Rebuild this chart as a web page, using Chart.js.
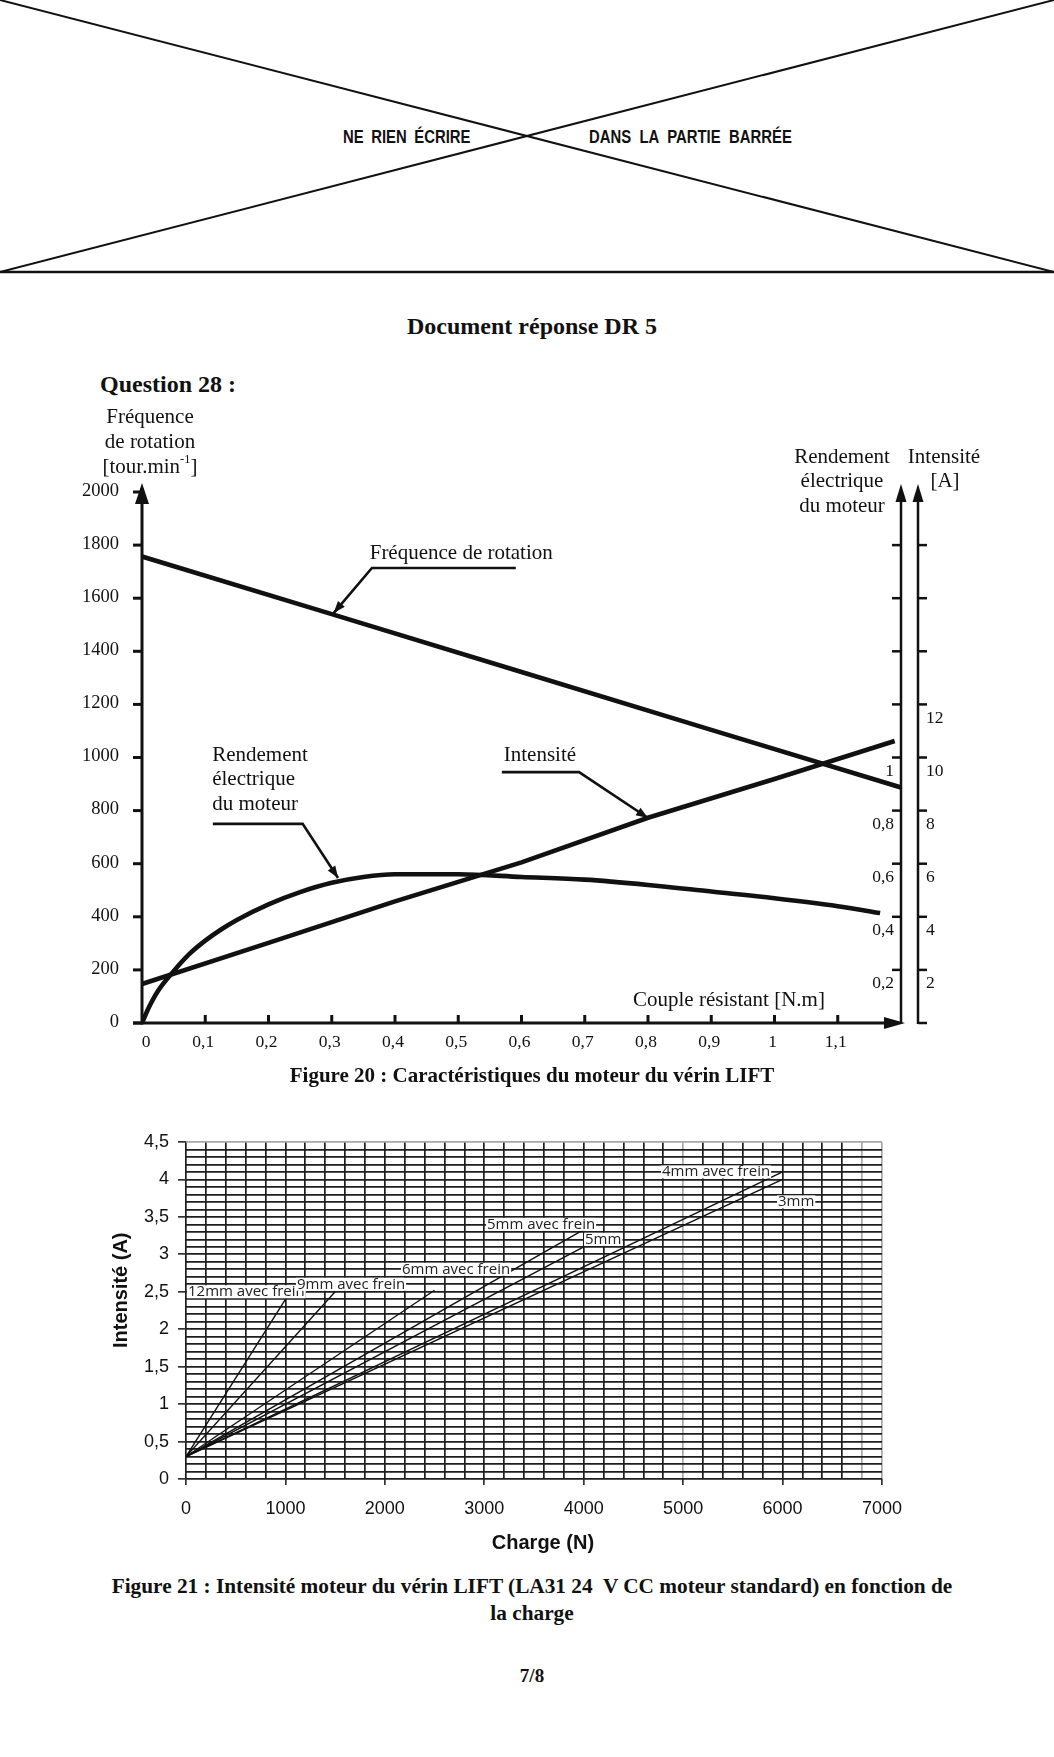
<!DOCTYPE html>
<html lang="fr">
<head>
<meta charset="utf-8">
<title>Document réponse DR 5</title>
<script src="https://cdn.jsdelivr.net/npm/chart.js@4.4.1/dist/chart.umd.min.js"></script>
<style>
  html, body { margin: 0; padding: 0; background: #fff; }
  #page { position: relative; width: 1054px; height: 1757px; overflow: hidden; color: #111;
          font-family: "Liberation Serif", "Times New Roman", serif; }
  .t { position: absolute; white-space: nowrap; line-height: 1; }
  .c { transform: translateX(-50%); }
  .b { font-weight: bold; }
  .hdr { font-family: "Liberation Sans", Arial, sans-serif; font-weight: bold; font-size: 17.5px;
         word-spacing: 4px; transform: scaleX(0.85); transform-origin: left top; }
  canvas { position: absolute; left: 0; }
</style>
</head>
<body>
<div id="page">
  <svg width="1054" height="280" style="position:absolute;left:0;top:0">
    <line x1="0" y1="0" x2="1054" y2="272" stroke="#111" stroke-width="2"/>
    <line x1="0" y1="272" x2="1054" y2="0" stroke="#111" stroke-width="2"/>
    <line x1="0" y1="272" x2="1054" y2="272" stroke="#111" stroke-width="2.5"/>
  </svg>
  <div class="t hdr" style="left:343px;top:128.5px">NE RIEN ÉCRIRE</div>
  <div class="t hdr" style="left:589px;top:128.5px;word-spacing:5px">DANS LA PARTIE BARRÉE</div>

  <div class="t c b" style="left:532px;top:314px;font-size:24px">Document réponse DR 5</div>
  <div class="t b" style="left:100px;top:372px;font-size:24px">Question 28 :</div>

  <canvas id="fig20" width="1054" height="720" style="top:380px"></canvas>
  <div class="t c b" style="left:532px;top:1065px;font-size:21px">Figure 20 : Caractéristiques du moteur du vérin LIFT</div>

  <canvas id="fig21" width="1054" height="460" style="top:1103px"></canvas>
  <div class="t c b" style="left:532px;top:1576px;font-size:21.3px">Figure 21 : Intensité moteur du vérin LIFT (LA31 24&nbsp; V CC moteur standard) en fonction de</div>
  <div class="t c b" style="left:532px;top:1603px;font-size:21.3px">la charge</div>

  <div class="t c b" style="left:532px;top:1666px;font-size:19px">7/8</div>
</div>

<script>
const INK = '#111';
const SERIF = '"Liberation Serif", "Times New Roman", serif';
const SANS = '"Liberation Sans", Arial, sans-serif';

// ---- Figure 20 : caractéristiques du moteur ----
const coupleF = [0, 0.3, 0.6, 0.9, 1.2];
const frequence = [1757, 1540, 1322, 1104, 887];            // tour.min-1

const coupleI = [0, 0.2, 0.4, 0.6, 0.8, 1.0, 1.19];
const intensite = [1.47, 3.02, 4.58, 6.05, 7.73, 9.19, 10.62]; // A

const coupleR = [0, 0.01, 0.025, 0.05, 0.075, 0.1, 0.125, 0.15, 0.2, 0.25, 0.3, 0.35, 0.4,
                 0.5, 0.6, 0.7, 0.8, 0.9, 1.0, 1.1, 1.167];
const rendement = [0, 0.055, 0.12, 0.195, 0.26, 0.31, 0.352, 0.388, 0.447, 0.493, 0.528, 0.55, 0.56,
                   0.56, 0.55, 0.54, 0.52, 0.495, 0.47, 0.44, 0.414];

const freqTicks = [0, 200, 400, 600, 800, 1000, 1200, 1400, 1600, 1800, 2000];
const coupleTicks = [0.1, 0.2, 0.3, 0.4, 0.5, 0.6, 0.7, 0.8, 0.9, 1, 1.1];
const coupleLabels = ['0,1', '0,2', '0,3', '0,4', '0,5', '0,6', '0,7', '0,8', '0,9', '1', '1,1'];
const rendTicks = [0.2, 0.4, 0.6, 0.8, 1, 1.2, 1.4, 1.6, 1.8];
const rendLabels = ['0,2', '0,4', '0,6', '0,8', '1'];
const intTicks = [0, 2, 4, 6, 8, 10, 12, 14, 16, 18];
const intLabels = ['', '2', '4', '6', '8', '10', '12'];

// ---- Figure 21 : intensité en fonction de la charge ----
const seriesNames = ['12mm avec frein', '9mm avec frein', '6mm avec frein', '5mm avec frein',
                     '5mm', '4mm avec frein', '3mm'];
const chargeN = [[0, 1000], [0, 1500], [0, 2500], [0, 4000], [0, 4000], [0, 6000], [0, 6000]];
const courantA = [[0.3, 2.4], [0.3, 2.5], [0.3, 2.52], [0.3, 3.33], [0.3, 3.1], [0.3, 4.1], [0.3, 4.0]];

const pts = (xs, ys) => xs.map((x, i) => ({ x, y: ys[i] }));

function arrowHead(ctx, tx, ty, fx, fy, len, half) {
  const a = Math.atan2(ty - fy, tx - fx);
  const bx = tx - len * Math.cos(a), by = ty - len * Math.sin(a);
  ctx.beginPath();
  ctx.moveTo(tx, ty);
  ctx.lineTo(bx + half * Math.sin(a), by - half * Math.cos(a));
  ctx.lineTo(bx - half * Math.sin(a), by + half * Math.cos(a));
  ctx.closePath();
  ctx.fill();
}

function seg(ctx, x1, y1, x2, y2, w) {
  ctx.lineWidth = w;
  ctx.beginPath();
  ctx.moveTo(x1, y1);
  ctx.lineTo(x2, y2);
  ctx.stroke();
}

// curve labels with leader arrows, in data units (x: N.m, y: left axis)
const fig20Notes = [
  { text: ['Fréquence de rotation'], at: [0.360, 1770], leader: [[0.591, 1714], [0.3635, 1714], [0.303, 1544]] },
  { text: ['Intensité'], at: [0.572, 1009], leader: [[0.569, 945], [0.691, 945], [0.800, 772]] },
  { text: ['Rendement', 'électrique', 'du moteur'], at: [0.111, 1009], leader: [[0.112, 750], [0.254, 750], [0.310, 546]] },
];

const fig20Axes = {
  id: 'fig20Axes',
  afterDraw(chart) {
    const { ctx } = chart;
    const { x, y, yR, yI } = chart.scales;
    const x0 = x.getPixelForValue(0), y0 = y.getPixelForValue(0);
    const yTop = y.getPixelForValue(2000);
    ctx.save();
    ctx.strokeStyle = INK;
    ctx.fillStyle = INK;
    ctx.lineCap = 'butt';

    // left axis + arrow
    seg(ctx, x0, y0 + 1.5, x0, yTop - 4, 3);
    arrowHead(ctx, x0, yTop - 9, x0, yTop + 20, 21, 7);
    ctx.font = '18.5px ' + SERIF;
    ctx.textAlign = 'right';
    ctx.textBaseline = 'middle';
    freqTicks.forEach(v => {
      const py = y.getPixelForValue(v);
      seg(ctx, x0 - 9, py, x0, py, 3);
      ctx.fillText(String(v), x0 - 23, py - 1);
    });

    // right axes
    const xR = x.getPixelForValue(1.2), xI = xR + 17;
    seg(ctx, xR, y0 + 1, xR, yTop, 2.5);
    seg(ctx, xI, y0 + 1, xI, yTop, 2.5);
    arrowHead(ctx, xR, yTop - 8, xR, yTop + 10, 18, 5.5);
    arrowHead(ctx, xI, yTop - 8, xI, yTop + 10, 18, 5.5);
    ctx.font = '17.5px ' + SERIF;
    rendTicks.forEach((v, i) => {
      const py = yR.getPixelForValue(v);
      seg(ctx, xR - 9, py, xR, py, 2.5);
      if (rendLabels[i]) { ctx.textAlign = 'right'; ctx.fillText(rendLabels[i], xR - 7, py + 14); }
    });
    intTicks.forEach((v, i) => {
      const py = yI.getPixelForValue(v);
      seg(ctx, xI, py, xI + 9, py, 2.5);
      if (intLabels[i]) { ctx.textAlign = 'left'; ctx.fillText(intLabels[i], xI + 8, py + 14); }
    });

    // x axis + arrow
    seg(ctx, x0 - 9, y0, xR - 12, y0, 3);
    arrowHead(ctx, xR + 4, y0, xR - 20, y0, 21, 6);
    ctx.textAlign = 'center';
    ctx.fillText('0', x0 + 4, y0 + 19);
    coupleTicks.forEach((v, i) => {
      const px = x.getPixelForValue(v);
      seg(ctx, px, y0, px, y0 - 8, 3);
      ctx.fillText(coupleLabels[i], px - 2, y0 + 19);
    });

    // axis titles
    ctx.font = '21px ' + SERIF;
    ctx.textAlign = 'center';
    ctx.fillText('Fréquence', x0 + 8, yTop - 75);
    ctx.fillText('de rotation', x0 + 8, yTop - 50);
    const base = '[tour.min', sup = '-1', end = ']';
    const wb = ctx.measureText(base).width, we = ctx.measureText(end).width;
    ctx.font = '12.5px ' + SERIF;
    const ws = ctx.measureText(sup).width;
    const sx = x0 + 8 - (wb + ws + we) / 2;
    ctx.textAlign = 'left';
    ctx.font = '21px ' + SERIF;
    ctx.fillText(base, sx, yTop - 25);
    ctx.font = '12.5px ' + SERIF;
    ctx.fillText(sup, sx + wb, yTop - 32);
    ctx.font = '21px ' + SERIF;
    ctx.fillText(end, sx + wb + ws, yTop - 25);

    ctx.textAlign = 'center';
    ctx.fillText('Rendement', xR - 59, yTop - 35);
    ctx.fillText('électrique', xR - 59, yTop - 11);
    ctx.fillText('du moteur', xR - 59, yTop + 14);
    ctx.fillText('Intensité', xI + 26, yTop - 35);
    ctx.fillText('[A]', xI + 27, yTop - 11);
    ctx.fillText('Couple résistant [N.m]', x.getPixelForValue(0.928), y.getPixelForValue(85));

    // curve names and leaders
    ctx.textAlign = 'left';
    fig20Notes.forEach(n => {
      const tx = x.getPixelForValue(n.at[0]), ty = y.getPixelForValue(n.at[1]);
      n.text.forEach((s, i) => ctx.fillText(s, tx, ty + i * 24.5));
      const p = n.leader.map(([u, v]) => [x.getPixelForValue(u), y.getPixelForValue(v)]);
      ctx.lineWidth = 2.6;
      ctx.beginPath();
      ctx.moveTo(p[0][0], p[0][1]);
      for (let k = 1; k < p.length; k++) ctx.lineTo(p[k][0], p[k][1]);
      ctx.stroke();
      const t = p[p.length - 1], f = p[p.length - 2];
      arrowHead(ctx, t[0], t[1], f[0], f[1], 12, 4.5);
    });
    ctx.restore();
  }
};

new Chart(document.getElementById('fig20'), {
  type: 'line',
  data: {
    datasets: [
      { label: 'Fréquence de rotation', data: pts(coupleF, frequence), yAxisID: 'y' },
      { label: 'Intensité', data: pts(coupleI, intensite), yAxisID: 'yI' },
      { label: 'Rendement électrique du moteur', data: pts(coupleR, rendement), yAxisID: 'yR',
        cubicInterpolationMode: 'monotone' },
    ].map(d => Object.assign({ borderColor: INK, borderWidth: 4.6, pointRadius: 0, fill: false,
                               tension: 0, borderCapStyle: 'butt' }, d)),
  },
  options: {
    responsive: false,
    animation: false,
    layout: { padding: { left: 142, right: 153, top: 112, bottom: 77 } },
    scales: {
      x: { type: 'linear', min: 0, max: 1.2, display: false },
      y: { min: 0, max: 2000, display: false },
      yR: { position: 'right', min: 0, max: 2, display: false },
      yI: { position: 'right', min: 0, max: 20, display: false },
    },
    plugins: { legend: { display: false }, tooltip: { enabled: false } },
  },
  plugins: [fig20Axes],
});

// ---- Figure 21 ----
const fig21Notes = {
  '12mm avec frein': [20, 2.5],
  '9mm avec frein': [1116, 2.6],
  '6mm avec frein': [2172, 2.8],
  '5mm avec frein': [3027, 3.4],
  '5mm': [4013, 3.2],
  '4mm avec frein': [4787, 4.1],
  '3mm': [5954, 3.7],
};

const fig21Labels = {
  id: 'fig21Labels',
  afterDatasetsDraw(chart) {
    const { ctx } = chart;
    const { x, y } = chart.scales;
    ctx.save();
    ctx.font = '15px "Open Sans", ' + SANS;
    ctx.textAlign = 'left';
    ctx.textBaseline = 'middle';
    seriesNames.forEach(name => {
      const [u, v] = fig21Notes[name];
      const px = x.getPixelForValue(u), py = y.getPixelForValue(v);
      const w = ctx.measureText(name).width;
      ctx.fillStyle = '#fff';
      ctx.fillRect(px - 1, py - 6.5, w + 2, 13);
      ctx.fillStyle = '#222';
      ctx.fillText(name, px, py);
    });
    // axis titles
    ctx.fillStyle = INK;
    ctx.font = 'bold 20px ' + SANS;
    ctx.textAlign = 'center';
    ctx.fillText('Charge (N)', x.getPixelForValue(3590), y.bottom + 64);
    ctx.translate(x.left - 65, y.getPixelForValue(2.52));
    ctx.rotate(-Math.PI / 2);
    ctx.fillText('Intensité (A)', 0, 0);
    ctx.restore();
  }
};

const isHalf = v => Math.abs(v * 2 - Math.round(v * 2)) < 1e-6;
const lightX = [5000, 6800, 7000];

new Chart(document.getElementById('fig21'), {
  type: 'line',
  data: {
    datasets: seriesNames.map((name, i) => ({
      label: name,
      data: pts(chargeN[i], courantA[i]),
      borderColor: INK, borderWidth: 1.4, pointRadius: 0, tension: 0, fill: false,
    })),
  },
  options: {
    responsive: false,
    animation: false,
    layout: { padding: { left: 0, right: 172, top: 39, bottom: 4 } },
    scales: {
      x: {
        type: 'linear', min: 0, max: 7000,
        afterFit: s => { s.height = 80; },
        border: { display: false },
        grid: {
          lineWidth: 1.7,
          color: c => lightX.includes(c.tick.value) ? '#a8a8a8' : '#1e1e1e',
          tickLength: 6,
          tickColor: c => c.tick.value % 1000 === 0 ? '#333' : 'rgba(0,0,0,0)',
        },
        ticks: {
          stepSize: 200, autoSkip: false, maxRotation: 0, padding: 13, color: INK,
          font: { family: SANS, size: 18 },
          callback: v => v % 1000 === 0 ? String(v) : '',
        },
      },
      y: {
        min: 0, max: 4.5,
        afterFit: s => { s.width = 186; },
        border: { display: false },
        grid: {
          lineWidth: 1.7,
          color: c => c.tick.value >= 4.45 ? '#a8a8a8' : '#1e1e1e',
          tickLength: 8,
          tickColor: c => isHalf(c.tick.value) ? '#333' : 'rgba(0,0,0,0)',
        },
        ticks: {
          stepSize: 0.1, autoSkip: false, padding: 9, color: INK,
          font: { family: SANS, size: 18 },
          callback: v => isHalf(v) ? String(Math.round(v * 10) / 10).replace('.', ',') : '',
        },
      },
    },
    plugins: { legend: { display: false }, tooltip: { enabled: false } },
  },
  plugins: [fig21Labels],
});
</script>
</body>
</html>
